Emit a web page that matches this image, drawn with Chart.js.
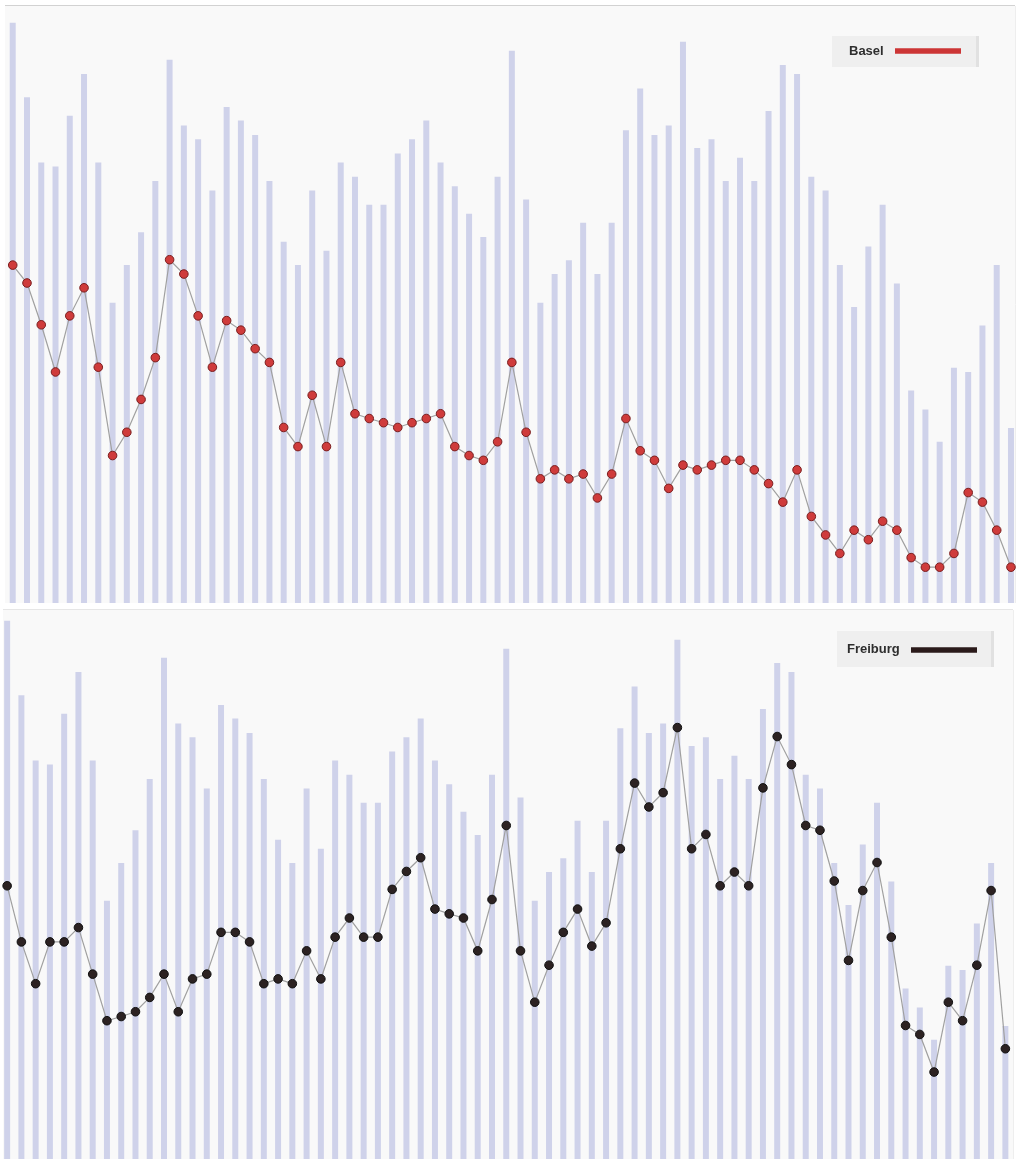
<!DOCTYPE html>
<html><head><meta charset="utf-8">
<script src="https://cdn.jsdelivr.net/npm/chart.js@4"></script>
<style>
html,body{margin:0;padding:0;background:#fff;overflow:hidden;width:1020px;height:1159px;}
.wrap{position:absolute;left:0;width:1020px;height:606px;}
#w1{top:0;}
#w2{top:604px;}
</style></head><body>
<div class="wrap" id="w1"><canvas id="c1"></canvas></div>
<div class="wrap" id="w2"><canvas id="c2"></canvas></div>
<script>
const years = [1948,1949,1950,1951,1952,1953,1954,1955,1956,1957,1958,1959,1960,1961,1962,1963,1964,1965,1966,1967,1968,1969,1970,1971,1972,1973,1974,1975,1976,1977,1978,1979,1980,1981,1982,1983,1984,1985,1986,1987,1988,1989,1990,1991,1992,1993,1994,1995,1996,1997,1998,1999,2000,2001,2002,2003,2004,2005,2006,2007,2008,2009,2010,2011,2012,2013,2014,2015,2016,2017,2018];

const barValues = [97.2,84.7,73.8,73.1,81.6,88.6,73.8,50.3,56.6,62.1,70.7,91.0,80.0,77.7,69.1,83.1,80.8,78.4,70.7,60.5,56.6,69.1,59.0,73.8,71.4,66.7,66.7,75.3,77.7,80.8,73.8,69.8,65.2,61.3,71.4,92.5,67.6,50.3,55.1,57.4,63.7,55.1,63.7,79.2,86.2,78.4,80.0,94.0,76.2,77.7,70.7,74.6,70.7,82.4,90.1,88.6,71.4,69.1,56.6,49.6,59.7,66.7,53.5,35.6,32.4,27.0,39.4,38.7,46.5,56.6,29.3];

const basel = [56.6,53.6,46.6,38.7,48.1,52.8,39.5,24.7,28.6,34.1,41.1,57.5,55.1,48.1,39.5,47.3,45.7,42.6,40.3,29.4,26.2,34.8,26.2,40.3,31.7,30.9,30.2,29.4,30.2,30.9,31.7,26.2,24.7,23.9,27.0,40.3,28.6,20.8,22.3,20.8,21.6,17.6,21.6,30.9,25.5,23.9,19.2,23.1,22.3,23.1,23.9,23.9,22.3,20.0,16.9,22.3,14.5,11.4,8.3,12.2,10.6,13.7,12.2,7.6,6.0,6.0,8.3,18.5,16.9,12.2,6.0];

const freiburg = [52.8,43.4,36.4,43.4,43.4,45.8,38.0,30.2,30.9,31.7,34.1,38.0,31.7,37.2,38.0,45.0,45.0,43.4,36.4,37.2,36.4,41.9,37.2,44.2,47.4,44.2,44.2,52.2,55.2,57.5,48.9,48.1,47.4,41.9,50.5,62.9,41.9,33.3,39.5,45.0,48.9,42.7,46.6,59.0,70.0,66.0,68.4,79.3,59.0,61.4,52.8,55.1,52.8,69.2,77.8,73.1,62.9,62.1,53.6,40.3,52.0,56.7,44.2,29.4,27.9,21.6,33.3,30.2,39.5,52.0,25.5];

const seriesNames = ['Basel','Freiburg'];

function panelPlugin(p){
  return {
    id:'panel',
    beforeDraw(chart){
      const ctx = chart.ctx;
      ctx.save();
      ctx.fillStyle = '#f9f9f9';
      ctx.fillRect(p.bg[0], p.bg[1], p.bg[2], p.bg[3]);
      ctx.strokeStyle = p.lineColor;
      ctx.lineWidth = 1;
      ctx.beginPath();
      ctx.moveTo(p.bg[0], p.bg[1]-0.5);
      ctx.lineTo(p.bg[0]+p.bg[2], p.bg[1]-0.5);
      ctx.stroke();
      ctx.strokeStyle = '#eeeeee';
      ctx.beginPath();
      ctx.moveTo(p.bg[0]+p.bg[2]+0.5, p.bg[1]);
      ctx.lineTo(p.bg[0]+p.bg[2]+0.5, p.bg[1]+p.bg[3]);
      ctx.stroke();
      ctx.restore();
    },
    afterDraw(chart){
      const ctx = chart.ctx;
      const b = p.box;
      ctx.save();
      ctx.fillStyle = '#efefef';
      ctx.fillRect(b[0], b[1], b[2], b[3]);
      ctx.fillStyle = '#e1e1e1';
      ctx.fillRect(b[0]+b[2]-3, b[1], 3, b[3]);
      ctx.fillStyle = '#2e2e2e';
      ctx.font = 'bold 13px "Liberation Sans", Arial, sans-serif';
      ctx.textBaseline = 'middle';
      ctx.fillText(p.name, p.text[0], p.text[1]);
      ctx.strokeStyle = p.legendColor;
      ctx.lineWidth = 5.5;
      ctx.beginPath();
      ctx.moveTo(p.line[0], p.line[2]);
      ctx.lineTo(p.line[1], p.line[2]);
      ctx.stroke();
      ctx.restore();
    }
  };
}

function makeChart(id, lineData, p){
  return new Chart(document.getElementById(id), {
    data: {
      labels: years,
      datasets: [
        {type:'line', label:p.name, data:lineData, borderColor:'#a0a0a0', borderWidth:1.2,
         pointRadius:4.3, pointHoverRadius:4.3, pointBackgroundColor:p.pointFill, pointBorderColor:p.pointBorder,
         pointBorderWidth:1, tension:0, order:0, clip:8},
        {type:'bar', label:'bars', data:barValues, backgroundColor:'#cfd2ea', borderWidth:0,
         barPercentage:0.42, categoryPercentage:1, order:1}
      ]
    },
    options: {
      responsive:true, maintainAspectRatio:false, animation:false,
      layout:{padding:p.padding, autoPadding:false},
      scales:{ x:{display:false, offset:true}, y:{display:false, min:0, max:100} },
      plugins:{ legend:{display:false}, tooltip:{enabled:false} }
    },
    plugins:[panelPlugin(p)]
  });
}

makeChart('c1', basel, {
  name: seriesNames[0], pointFill:'#cf3b3b', pointBorder:'#7a1e1e', legendColor:'#cc3535',
  padding:{left:5.6, right:1.9, top:6, bottom:3},
  bg:[5,6,1010,597], lineColor:'#d2d2d2',
  box:[832,36,147,31], text:[849,51], line:[895,961,51]
});
makeChart('c2', freiburg, {
  name: seriesNames[1], pointFill:'#2c2222', pointBorder:'#111111', legendColor:'#2a1a1a',
  padding:{left:0, right:7.5, top:0, bottom:9},
  bg:[3,6,1010,600], lineColor:'#e6e6e6',
  box:[837,27,157,36], text:[847,45], line:[911,977,46]
});
</script>
</body></html>
